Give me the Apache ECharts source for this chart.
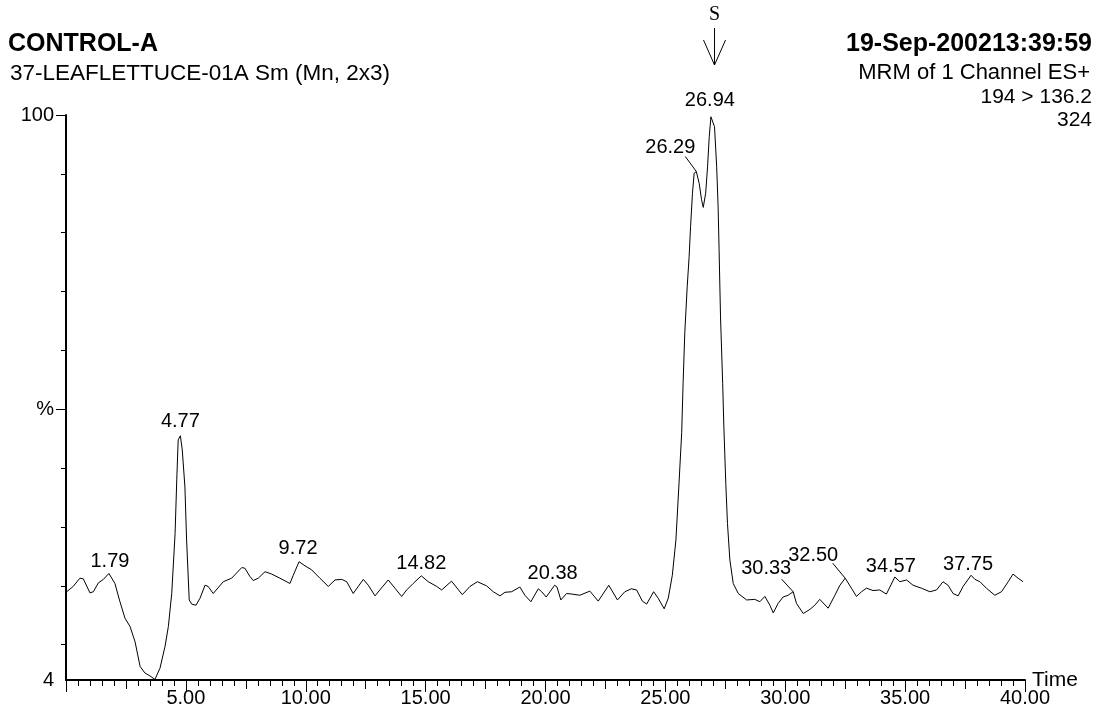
<!DOCTYPE html>
<html>
<head>
<meta charset="utf-8">
<script src="https://cdn.jsdelivr.net/npm/echarts@6/dist/echarts.min.js"></script>
<style>
html,body{margin:0;padding:0;background:#fff;}
#chart{width:1100px;height:714px;}
</style>
</head>
<body>
<div id="chart"></div>
<script>
// Retention time (min)
const times = [0.03,0.30,0.58,0.72,1.00,1.14,1.35,1.56,1.79,2.04,
2.25,2.46,2.67,2.88,3.09,3.29,3.50,3.71,3.92,4.13,
4.27,4.41,4.55,4.62,4.68,4.77,4.85,4.96,5.03,5.14,
5.24,5.42,5.59,5.80,5.93,6.14,6.56,6.91,7.33,7.46,
7.67,7.81,8.02,8.30,8.58,8.92,9.34,9.48,9.72,9.97,
10.25,10.59,10.94,11.22,11.50,11.71,11.98,12.19,12.40,12.61,
12.89,13.09,13.44,13.72,14.00,14.21,14.48,14.82,15.11,15.46,
15.67,16.08,16.53,16.85,17.16,17.54,17.82,18.10,18.31,18.59,
18.93,19.14,19.39,19.70,19.84,20.03,20.38,20.48,20.64,20.88,
21.10,21.43,21.85,22.20,22.64,23.00,23.31,23.58,23.80,24.04,
24.22,24.51,24.70,24.95,25.12,25.29,25.44,25.57,25.68,25.74,
25.81,25.91,25.99,26.05,26.13,26.20,26.29,26.41,26.51,26.58,
26.68,26.76,26.83,26.90,26.94,27.05,27.14,27.20,27.24,27.30,
27.39,27.44,27.52,27.59,27.69,27.83,28.04,28.39,28.73,28.94,
29.15,29.36,29.50,29.70,29.91,30.12,30.33,30.47,30.75,31.03,
31.23,31.44,31.79,32.07,32.28,32.50,32.76,32.97,33.18,33.39,
33.66,33.94,34.22,34.57,34.78,35.06,35.33,35.68,36.03,36.31,
36.58,36.79,37.00,37.21,37.42,37.75,37.91,38.12,38.39,38.74,
39.02,39.30,39.50,39.71,39.92];
// Relative intensity (%)
const intensity = [19.0,19.9,21.3,21.2,18.8,19.0,20.5,21.1,22.1,20.4,
17.3,14.5,13.1,10.5,6.3,5.2,4.7,4.1,6.0,9.7,
13.1,18.7,28.9,38.0,44.8,45.5,43.1,36.8,27.8,17.6,
16.9,16.7,17.9,20.1,19.9,18.7,20.7,21.3,23.1,23.0,
21.6,20.9,21.3,22.4,22.0,21.3,20.4,21.8,24.1,23.4,
22.7,21.3,19.9,21.0,21.1,20.7,18.7,19.9,21.1,20.1,
18.3,19.3,21.0,19.6,18.2,19.3,20.4,21.7,20.7,19.9,
19.3,20.8,18.5,19.9,20.7,20.0,19.0,18.3,18.9,19.0,
19.8,18.4,17.3,19.5,19.0,18.1,20.1,19.8,17.6,18.7,
18.6,18.4,19.1,17.4,20.1,17.6,19.0,19.5,19.3,17.4,
16.9,19.0,17.9,16.1,17.9,21.8,27.8,37.5,46.0,54.5,
63.0,70.8,75.9,81.0,86.7,90.1,90.4,88.4,85.6,84.3,
86.7,91.2,96.3,99.7,100,98.0,91.2,84.4,77.1,65.7,
54.4,47.0,37.4,30.6,24.4,20.4,18.7,17.6,17.7,17.3,
18.2,16.7,15.4,17.0,18.1,18.4,19.0,17.0,15.3,16.0,
16.7,17.7,16.2,18.4,20.1,21.3,19.6,18.2,19.0,19.6,
19.2,19.3,18.6,21.5,20.7,21.0,20.1,19.6,19.0,19.3,
20.7,20.1,18.7,18.3,19.9,21.8,21.1,20.7,19.6,18.4,
19.0,20.7,22.0,21.3,20.7];

// Labelled peaks
const peakTimes  = [1.79, 4.77, 9.72, 14.82, 20.38, 26.29, 26.94, 30.33, 32.50, 34.57, 37.75];
const peakValues = [22.1, 45.5, 24.1, 21.7, 20.1, 90.4, 100, 19.0, 21.3, 21.5, 21.8];
const peakLabels = ['1.79','4.77','9.72','14.82','20.38','26.29','26.94','30.33','32.50','34.57','37.75'];

// Expected retention time marker "S"
const expectedTime = 27.05;

// Axis tick labels
const xTickLabels = ['5.00','10.00','15.00','20.00','25.00','30.00','35.00','40.00'];
const yLabelValues = [4, 50, 100];
const yLabelTexts = ['4', '%', '100'];
const yShortTicks = [10, 20, 30, 40, 60, 70, 80, 90];
const yLongTicks = [50, 100];

// Header texts
const titleText = 'CONTROL-A';
const subtitleText = '37-LEAFLETTUCE-01A Sm (Mn, 2x3)';
const dateText = '19-Sep-200213:39:59';
const infoLines = ['MRM of 1 Channel ES+', '194 > 136.2', '324'];

// ---- styles (label offsets relative to the peak, in px) ----
const labelOffsets = [
  {dx: 1, dy: -12}, {dx: 0, dy: -14}, {dx: -1, dy: -13}, {dx: 0, dy: -12}, {dx: -2, dy: -12},
  {dx: -26, dy: -24, lx: -11, ly: -15},
  {dx: -2, dy: -15},
  {dx: -27, dy: -23, lx: -11.5, ly: -12.5},
  {dx: -32, dy: -23, lx: -12.5, ly: -15},
  {dx: -4, dy: -11}, {dx: -3, dy: -11}
];
const FONT = '"Liberation Sans", Arial, sans-serif';

const chart = echarts.init(document.getElementById('chart'), null, {renderer: 'canvas'});
const lineData = times.map((t, i) => [t, intensity[i]]);
const peakData = peakTimes.map((t, i) => [t, peakValues[i]]);

const option = {
  animation: false,
  backgroundColor: '#fff',
  grid: {left: 66, right: 75, top: 115, bottom: 34, containLabel: false, outerBoundsMode: 'none'},
  xAxis: [{
    type: 'value', min: 0, max: 40, interval: 2.5,
    name: 'Time', nameLocation: 'end', nameGap: 7, nameMoveOverlap: false,
    nameTextStyle: {color: '#000', fontFamily: FONT, fontSize: 21, align: 'left', verticalAlign: 'middle'},
    axisLine: {show: true, onZero: false, lineStyle: {color: '#000', width: 2}},
    axisTick: {show: true, length: 9, lineStyle: {color: '#000', width: 1}},
    minorTick: {show: true, splitNumber: 5, length: 6, lineStyle: {color: '#000', width: 1}},
    axisLabel: {show: true, color: '#000', fontFamily: FONT, fontSize: 20, margin: 8,
      formatter: v => { const i = xTickLabels.indexOf(v.toFixed(2)); return i >= 0 ? xTickLabels[i] : ''; },
      showMinLabel: false},
    splitLine: {show: false}, minorSplitLine: {show: false}
  }, {
    type: 'value', min: 0, max: 40, interval: 5, position: 'bottom',
    axisLine: {show: false}, axisTick: {show: true, length: 12, lineStyle: {color: '#000', width: 1}},
    axisLabel: {show: false}, splitLine: {show: false}
  }],
  yAxis: [{
    type: 'value', min: 4, max: 100,
    axisLine: {show: true, onZero: false, lineStyle: {color: '#000', width: 2}},
    axisTick: {show: true, length: 10, customValues: yLongTicks, lineStyle: {color: '#000', width: 1}},
    axisLabel: {show: true, color: '#000', fontFamily: FONT, fontSize: 20, margin: 12,
      customValues: yLabelValues,
      formatter: v => { const i = yLabelValues.indexOf(v); return i >= 0 ? yLabelTexts[i] : ''; }},
    splitLine: {show: false}
  }, {
    type: 'value', min: 4, max: 100, position: 'left',
    axisLine: {show: false},
    axisTick: {show: true, length: 5, customValues: yShortTicks, lineStyle: {color: '#000', width: 1}},
    axisLabel: {show: false}, splitLine: {show: false}
  }],
  series: [{
    type: 'line', data: lineData, xAxisIndex: 0, yAxisIndex: 0,
    showSymbol: false, symbol: 'none', smooth: false,
    lineStyle: {color: '#000', width: 1}, silent: true
  }, {
    type: 'custom', data: peakData, xAxisIndex: 0, yAxisIndex: 0, silent: true,
    renderItem: (params, api) => {
      const p = api.coord([api.value(0), api.value(1)]);
      const o = labelOffsets[params.dataIndex];
      const children = [{
        type: 'text',
        style: {text: peakLabels[params.dataIndex], x: p[0] + o.dx, y: p[1] + o.dy,
          align: 'center', verticalAlign: 'middle', fill: '#000', font: '20px ' + FONT}
      }];
      if (o.lx !== undefined) {
        children.push({type: 'line', shape: {x1: p[0] + o.lx, y1: p[1] + o.ly, x2: p[0], y2: p[1]},
          style: {stroke: '#000', lineWidth: 1}});
      }
      return {type: 'group', children};
    }
  }]
};
chart.setOption(option);

const sx = chart.convertToPixel({xAxisIndex: 0}, expectedTime);
chart.setOption({
  graphic: [
    {type: 'text', left: 8, top: 32, style: {text: titleText, fill: '#000', font: 'bold 25px ' + FONT}},
    {type: 'text', left: 10, top: 62, style: {text: subtitleText, fill: '#000', font: '22.5px ' + FONT}},
    {type: 'text', right: 8, top: 32, style: {text: dateText, fill: '#000', font: 'bold 25px ' + FONT}},
    {type: 'text', right: 10, top: 62, style: {text: infoLines[0], fill: '#000', font: '22px ' + FONT}},
    {type: 'text', right: 8, top: 87, style: {text: infoLines[1], fill: '#000', font: '21px ' + FONT}},
    {type: 'text', right: 8, top: 110, style: {text: infoLines[2], fill: '#000', font: '21px ' + FONT}},
    {type: 'text', x: sx, y: 15, style: {text: 'S', fill: '#000', font: '20px "Liberation Serif", serif', align: 'center', verticalAlign: 'middle'}},
    {type: 'line', shape: {x1: sx, y1: 28, x2: sx, y2: 65}, style: {stroke: '#000', lineWidth: 1}},
    {type: 'polyline', shape: {points: [[sx - 11, 40], [sx, 65], [sx + 11, 40]]}, style: {stroke: '#000', lineWidth: 1, fill: null}}
  ]
});
</script>
</body>
</html>
